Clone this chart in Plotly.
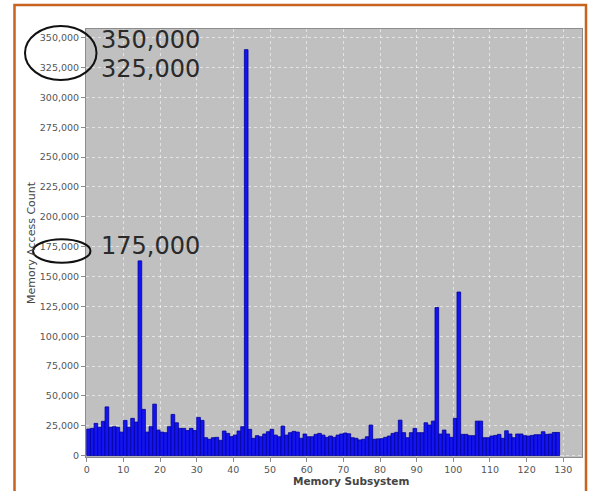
import plotly.graph_objects as go

# Memory access count per subsystem id
subsystem = list(range(129))
access_count = [
    22250, 22800, 27000, 23700, 28700, 40800, 23700, 24200, 23700, 19700,
    29500, 23700, 31200, 28100, 163100, 38700, 19700, 24200, 43100, 21400,
    19700, 19200, 24200, 34500, 27500, 22800, 22800, 21000, 22800, 21000,
    32000, 29500, 15000, 13700, 15000, 15300, 12800, 20600, 18600, 15900,
    17200, 20600, 24200, 340000, 22000, 14500, 16700, 15800, 18100, 20000,
    22000, 17200, 15800, 24700, 17200, 19200, 20300, 19700, 14500, 18100,
    15800, 15800, 17800, 18600, 17200, 15300, 16400, 15300, 17200, 18100,
    18900, 18300, 15000, 14500, 13100, 13700, 15800, 25600, 13700, 14000,
    14200, 15300, 16400, 18600, 19500, 29700, 19200, 15000, 19200, 22800,
    19200, 19200, 27500, 25600, 28900, 124000, 18100, 21400, 18100, 15300,
    31200, 137000, 17800, 17800, 16700, 16700, 28900, 28900, 15000, 15000,
    16400, 16900, 17800, 14500, 20800, 18100, 15000, 18100, 18100, 16700,
    16400, 16900, 17500, 17500, 20000, 17800, 18100, 19400, 19400,
]

# Highlighted tick values written large beside the axis
callout_values = [350000, 325000, 175000]

W, H = 594, 491
ML, MR, MT, MB = 86, 12, 29, 34
PW, PH = W - ML - MR, H - MT - MB


def px(x):
    return (x - ML) / PW


def py(y):
    return (H - MB - y) / PH


fig = go.Figure()
fig.add_trace(go.Bar(
    x=subsystem,
    y=access_count,
    offset=0,
    width=1,
    marker=dict(color="#1414F2", line=dict(color="#00009C", width=0.8)),
    hoverinfo="x+y",
))

axis_common = dict(
    showline=True, linecolor="#8C8C8C", linewidth=1, mirror=True,
    ticks="outside", ticklen=4, tickcolor="#8C8C8C",
    tickfont=dict(family="DejaVu Sans", size=9.5, color="#555555"),
    showgrid=True, gridcolor="rgba(255,255,255,0.55)", gridwidth=1, griddash="dot",
    zeroline=False,
)

fig.update_layout(
    width=W, height=H,
    margin=dict(l=ML, r=MR, t=MT, b=MB, pad=0),
    paper_bgcolor="white",
    plot_bgcolor="#C0C0C0",
    showlegend=False,
    xaxis=dict(range=[-0.2, 135.1], dtick=10, tick0=0, **axis_common),
    yaxis=dict(range=[-1170, 357280], dtick=25000, tick0=0, tickformat=",",
               **axis_common),
)

annotations = [
    dict(text="Memory Subsystem", x=px(351), y=py(481), xref="paper", yref="paper",
         showarrow=False, xanchor="center", yanchor="middle",
         font=dict(family="DejaVu Sans", size=10.5, color="#444444", weight="bold")),
    dict(text="Memory Access Count", x=px(31), y=py(243), xref="paper", yref="paper",
         showarrow=False, textangle=-90, xanchor="center", yanchor="middle",
         font=dict(family="DejaVu Sans", size=11, color="#444444")),
]
for val, cy in zip(callout_values, [40, 69.5, 246]):
    annotations.append(dict(
        text=f"{val:,}", x=px(99), y=py(cy), xref="paper", yref="paper",
        showarrow=False, xanchor="left", yanchor="middle",
        font=dict(family="DejaVu Sans", size=24, color="#2A2A2A"),
    ))
fig.update_layout(annotations=annotations)

shapes = [
    # outer frame
    dict(type="rect", xref="paper", yref="paper",
         x0=px(14.5), x1=px(586), y0=py(500), y1=py(5),
         line=dict(color="#C8621F", width=2.5), layer="above"),
    # ellipses around the highlighted tick labels
    dict(type="circle", xref="paper", yref="paper",
         x0=px(25), x1=px(96.5), y0=py(80), y1=py(26),
         line=dict(color="#111111", width=2), layer="above"),
    dict(type="circle", xref="paper", yref="paper",
         x0=px(33), x1=px(90.5), y0=py(262.7), y1=py(239.3),
         line=dict(color="#111111", width=2), layer="above"),
]
fig.update_layout(shapes=shapes)

fig.write_html("out.html")
